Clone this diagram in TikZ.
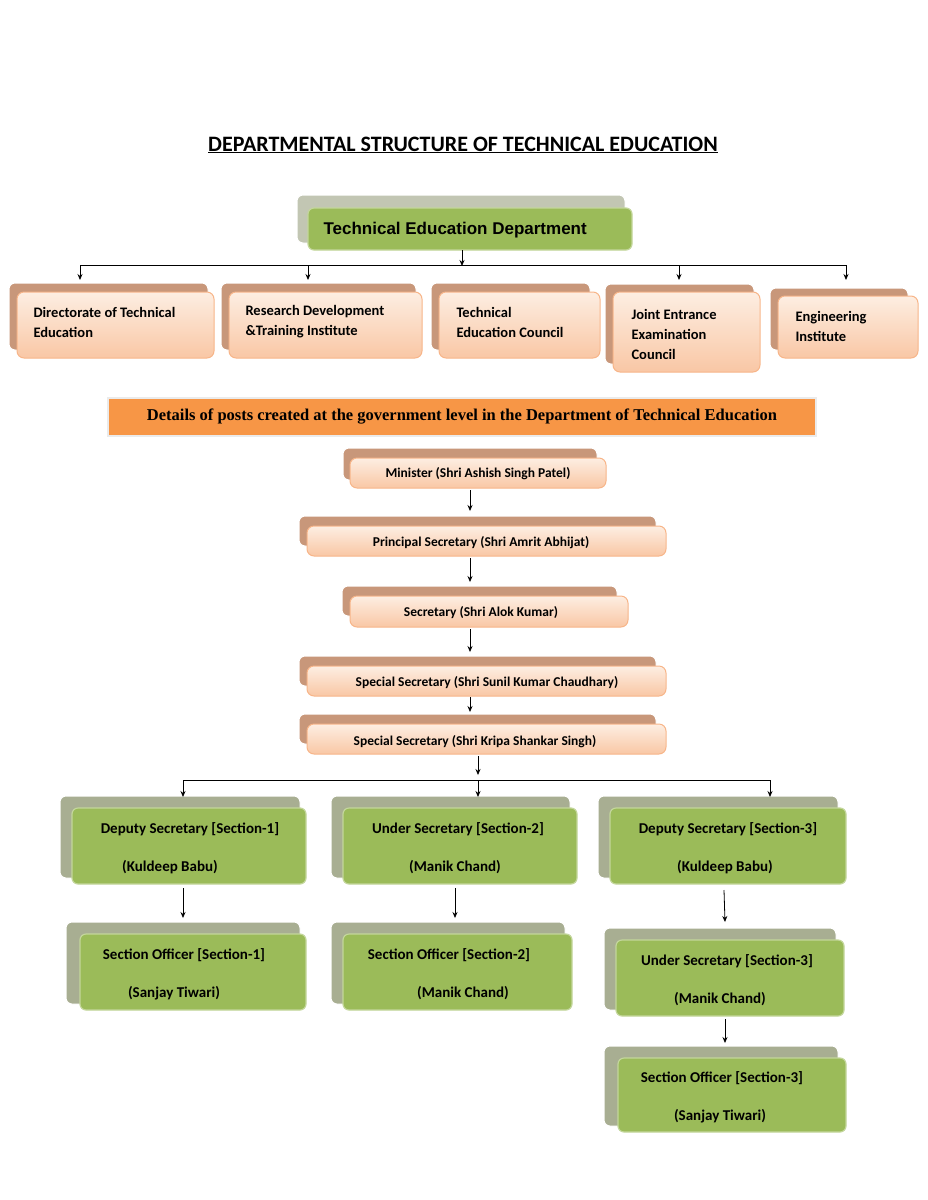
\documentclass[tikz,border=0pt]{standalone}
\usepackage{fontspec}
\setmainfont{Carlito}
\newfontfamily\arialf{Liberation Sans}
\newfontfamily\timesf{Liberation Serif}
\usetikzlibrary{arrows.meta}
\definecolor{tanB}{HTML}{C8977A}
\definecolor{peachT}{HTML}{FDEEE2}
\definecolor{peachB}{HTML}{F9C7A5}
\definecolor{peachL}{HTML}{F7B589}
\definecolor{grnF}{HTML}{9BBB59}
\definecolor{grnB}{HTML}{A8AE92}
\definecolor{grnL}{HTML}{C3D69B}
\definecolor{orng}{HTML}{F79646}
\tikzset{
  x=1pt,y=-1pt,
  back/.style={fill=#1,draw=white,line width=1pt,rounded corners=6pt},
  pfront/.style={draw=peachL,line width=1pt,rounded corners=7pt,top color=peachT,bottom color=peachB},
  gfront/.style={draw=grnL,line width=1.2pt,rounded corners=6pt,fill=grnF},
  arr/.style={-{Stealth[length=6pt,width=5pt]},line width=0.8pt},
  ln/.style={line width=0.8pt},
  txt/.style={font=\bfseries\fontsize{14.5}{20}\selectfont,align=left,anchor=west},
  ptxt/.style={font=\bfseries\fontsize{13.5}{16}\selectfont},
}
% \pbx{name}{bx1}{by1}{bx2}{by2}{fx1}{fy1}{fx2}{fy2}{backcol}{frontstyle}
\newcommand\pbx[9]{%
  \draw[back=#1] (#2,#3) rectangle (#4,#5);
  \draw[#6] (#7,#8) rectangle (#9,0);}
\newcommand\mybox[9]{%
  \path[back=#9] (#2,#3) rectangle (#4,#5);
  \path[every path/.try] (#6,#7) rectangle (#8,#7);}
\begin{document}
\begin{tikzpicture}
\useasboundingbox (0,0) rectangle (927,1200);
% title
\node[font=\bfseries\fontsize{22}{26}\selectfont] (title) at (463,145) {\underline{DEPARTMENTAL STRUCTURE OF TECHNICAL EDUCATION}};
% generic macro for a two-layer box
\def\twobox#1#2#3#4#5#6#7#8#9{%
  \draw[back=#9] (#1,#2) rectangle (#3,#4);}
% Top box
\draw[back=grnB!70] (297,195) rectangle (625,243);
\draw[gfront] (308,208) rectangle (632,250);
\node[anchor=west,font=\arialf\bfseries\fontsize{17}{20}\selectfont] (ted) at (320,230) {Technical Education Department};
\coordinate (tedb) at (462,250);
% row boxes
\draw[back=tanB] (9,283) rectangle (208,350);   \draw[pfront] (17,292) rectangle (214,358);
\draw[back=tanB] (221,283) rectangle (416,350); \draw[pfront] (229,292) rectangle (422,358);
\draw[back=tanB] (431,283) rectangle (590,350); \draw[pfront] (439,292) rectangle (600,358);
\draw[back=tanB] (605,284) rectangle (754,364); \draw[pfront] (613,292) rectangle (760,372);
\draw[back=tanB] (770,288) rectangle (908,350); \draw[pfront] (778,296) rectangle (918,358);
\node[txt] (r1) at (30,322) {Directorate of Technical\\Education};
\node[txt] (r2) at (242,322) {Research Development\\\&Training Institute};
\node[txt] (r3) at (453,322) {Technical\\Education Council};
\node[txt] (r4) at (628,334) {Joint Entrance\\Examination\\Council};
\node[txt] (r5) at (792,326) {Engineering\\Institute};
\coordinate (a1) at (80,280); \coordinate (a2) at (308,280); \coordinate (a4) at (679,280); \coordinate (a5) at (846,280);
\coordinate (h1) at (80,265); \coordinate (h5) at (846,265);
\draw[ln] (h1) -- (h5);
\draw[arr] (tedb) -- (462,266);
\foreach \a/\h in {a1/h1,a2/h1,a4/h1,a5/h1} \draw[arr] (\h -| \a) -- (\a);
% banner
\node[draw=black!8,line width=2pt,fill=orng,minimum width=708pt,minimum height=38pt,inner sep=0pt,
  font=\timesf\bfseries\fontsize{16.5}{20}\selectfont] (ban) at (462,417) {Details of posts created at the government level in the Department of Technical Education};
% posts
\draw[back=tanB] (343,448) rectangle (597,480); \draw[pfront] (350,458) rectangle (606,488);
\node[ptxt] (p1) at (478,474) {Minister (Shri Ashish Singh Patel)};
\draw[back=tanB] (299,516) rectangle (656,546); \draw[pfront] (307,526) rectangle (666,556);
\node[ptxt] (p2) at (481,543) {Principal Secretary (Shri Amrit Abhijat)};
\draw[back=tanB] (342,586) rectangle (617,616); \draw[pfront] (350,596) rectangle (628,627);
\node[ptxt] (p3) at (481,613) {Secretary (Shri Alok Kumar)};
\draw[back=tanB] (299,656) rectangle (656,686); \draw[pfront] (307,666) rectangle (666,696);
\node[ptxt] (p4) at (487,683) {Special Secretary (Shri Sunil Kumar Chaudhary)};
\draw[back=tanB] (299,714) rectangle (656,744); \draw[pfront] (307,724) rectangle (666,754);
\node[ptxt] (p5) at (475,742) {Special Secretary (Shri Kripa Shankar Singh)};
\coordinate (p1b) at (470,490); \coordinate (p2t) at (470,511);
\coordinate (p2b) at (470,558); \coordinate (p3t) at (470,582);
\coordinate (p3b) at (470,629); \coordinate (p4t) at (470,652);
\coordinate (p4b) at (470,697); \coordinate (p5t) at (470,712);
\draw[arr] (p1b) -- (p2t); \draw[arr] (p2b) -- (p3t); \draw[arr] (p3b) -- (p4t); \draw[arr] (p4b) -- (p5t);
\coordinate (p5b) at (478,756);
\coordinate (hl) at (183,780); \coordinate (hr) at (770,780);
\draw[ln] (hl) -- (hr);
\draw[arr] (p5b) -- (478,775);
% green boxes
\tikzset{gb/.style={back=grnB}, gt/.style={font=\bfseries\fontsize{15}{20}\selectfont}}
\draw[gb] (60,796) rectangle (300,878);  \draw[gfront] (72,808) rectangle (306,884);
\draw[gb] (331,796) rectangle (570,878); \draw[gfront] (343,808) rectangle (577,884);
\draw[gb] (598,796) rectangle (838,878); \draw[gfront] (610,808) rectangle (846,884);
\draw[gb] (66,922) rectangle (300,1004); \draw[gfront] (80,934) rectangle (306,1010);
\draw[gb] (331,922) rectangle (565,1004);\draw[gfront] (343,934) rectangle (572,1010);
\draw[gb] (604,928) rectangle (836,1010);\draw[gfront] (616,940) rectangle (844,1016);
\draw[gb] (604,1046) rectangle (838,1126);\draw[gfront] (618,1058) rectangle (846,1132);
\node[gt] (d1a) at (190,829) {Deputy Secretary [Section-1]};
\node[gt] (d1b) at (170,867) {(Kuldeep Babu)};
\node[gt] (u2a) at (458,829) {Under Secretary [Section-2]};
\node[gt] (u2b) at (455,867) {(Manik Chand)};
\node[gt] (d3a) at (728,829) {Deputy Secretary [Section-3]};
\node[gt] (d3b) at (725,867) {(Kuldeep Babu)};
\node[gt] (s1a) at (184,955) {Section Officer [Section-1]};
\node[gt] (s1b) at (174,993) {(Sanjay Tiwari)};
\node[gt] (s2a) at (449,955) {Section Officer [Section-2]};
\node[gt] (s2b) at (463,993) {(Manik Chand)};
\node[gt] (u3a) at (727,961) {Under Secretary [Section-3]};
\node[gt] (u3b) at (720,999) {(Manik Chand)};
\node[gt] (s3a) at (722,1078) {Section Officer [Section-3]};
\node[gt] (s3b) at (720,1116) {(Sanjay Tiwari)};
\draw[arr] (hl) -- (183,797);
\draw[arr] (478,780) -- (478,797);
\draw[arr] (hr) -- (770,797);
\coordinate (x1) at (183,888); \coordinate (y1) at (183,918);
\coordinate (x2) at (455,888); \coordinate (y2) at (455,918);
\coordinate (x3) at (724,890); \coordinate (y3) at (725,922);
\coordinate (x4) at (725,1019); \coordinate (y4) at (725,1043);
\draw[arr] (x1) -- (y1); \draw[arr] (x2) -- (y2); \draw[arr] (x3) -- (y3); \draw[arr] (x4) -- (y4);
\end{tikzpicture}
\end{document}
